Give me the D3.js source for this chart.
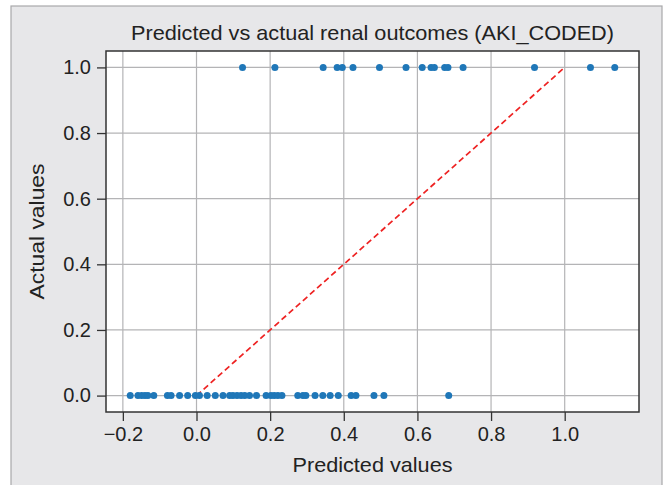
<!DOCTYPE html>
<html>
<head>
<meta charset="utf-8">
<title>Predicted vs actual</title>
<style>
body { margin: 0; background: #fff; }
svg text { font-family: "Liberation Sans", Arial, sans-serif; fill: #222; }
</style>
<script src="https://d3js.org/d3.v7.min.js"></script>
</head>
<body>
<svg id="chart" width="665" height="485"></svg>
<script>
// predicted values where actual = 1
const predPositive = [0.125, 0.213, 0.344, 0.382, 0.396, 0.425, 0.497, 0.569, 0.613,
                      0.637, 0.646, 0.674, 0.683, 0.724, 0.918, 1.070, 1.136];
// predicted values where actual = 0
const predNegative = [-0.180, -0.159, -0.149, -0.140, -0.132, -0.116, -0.079, -0.069,
                      -0.046, -0.024, -0.003, 0.008, 0.029, 0.051, 0.072, 0.090, 0.099,
                      0.110, 0.121, 0.131, 0.144, 0.163, 0.189, 0.202, 0.211, 0.221,
                      0.232, 0.275, 0.289, 0.297, 0.322, 0.343, 0.363, 0.385, 0.420,
                      0.433, 0.482, 0.509, 0.685];
const xTicks = [-0.2, 0.0, 0.2, 0.4, 0.6, 0.8, 1.0];
const yTicks = [0.0, 0.2, 0.4, 0.6, 0.8, 1.0];
const idealLine = [[0, 0], [1, 1]];

const svg = d3.select("#chart");
const L = 106, R = 639, T = 51, B = 412;

// outer grey panel
svg.append("rect")
   .attr("x", 11).attr("y", 6).attr("width", 651).attr("height", 490)
   .style("fill", "#e7e7e9").style("stroke", "#a9a9ab").style("stroke-width", 1.2);

const points = predPositive.map(v => ({x: v, y: 1}))
                 .concat(predNegative.map(v => ({x: v, y: 0})));

const xs = points.map(d => d.x);
const xMin = d3.min(xs), xMax = d3.max(xs);
const pad = (xMax - xMin) * 0.05;

const x = d3.scaleLinear().domain([xMin - pad, xMax + pad]).range([L, R]);
const y = d3.scaleLinear().domain([-0.05, 1.05]).range([B, T]);

svg.append("rect")
   .attr("x", L).attr("y", T).attr("width", R - L).attr("height", B - T)
   .style("fill", "#fff");

// grid
svg.append("g").selectAll("line").data(xTicks).join("line")
   .attr("x1", d => x(d)).attr("x2", d => x(d))
   .attr("y1", T).attr("y2", B)
   .style("stroke", "#b4b4b6").style("stroke-width", 1.2);
svg.append("g").selectAll("line").data(yTicks).join("line")
   .attr("x1", L).attr("x2", R)
   .attr("y1", d => y(d)).attr("y2", d => y(d))
   .style("stroke", "#b4b4b6").style("stroke-width", 1.2);

const fmt = d => d3.format(".1f")(d).replace("-", "\u2013");

const xAxis = d3.axisBottom(x).tickValues(xTicks).tickSize(9).tickPadding(6).tickFormat(fmt);
const yAxis = d3.axisLeft(y).tickValues(yTicks).tickSize(9).tickPadding(6).tickFormat(fmt);

const gx = svg.append("g").attr("transform", `translate(0, ${B})`).call(xAxis);
const gy = svg.append("g").attr("transform", `translate(${L}, 0)`).call(yAxis);
[gx, gy].forEach(g => {
  g.select(".domain").remove();
  g.selectAll(".tick line").style("stroke", "#333").style("stroke-width", 1.3);
  g.selectAll(".tick text").style("font-size", "20px").style("fill", "#222")
   .style("font-family", "'Liberation Sans', Arial, sans-serif");
});

// dashed ideal line
svg.append("path")
   .datum(idealLine)
   .attr("d", d3.line().x(d => x(d[0])).y(d => y(d[1])))
   .style("fill", "none").style("stroke", "#ee2222")
   .style("stroke-width", 1.7).style("stroke-dasharray", "6,3.5");

svg.append("g").selectAll("circle").data(points).join("circle")
   .attr("cx", d => x(d.x)).attr("cy", d => y(d.y)).attr("r", 3.5)
   .style("fill", "#1f77b8");

// frame
svg.append("rect")
   .attr("x", L).attr("y", T).attr("width", R - L).attr("height", B - T)
   .style("fill", "none").style("stroke", "#333").style("stroke-width", 1.5);

svg.append("text").attr("x", (L + R) / 2).attr("y", 40)
   .attr("text-anchor", "middle").style("font-size", "21px")
   .attr("textLength", 483).attr("lengthAdjust", "spacingAndGlyphs")
   .text("Predicted vs actual renal outcomes (AKI_CODED)");

svg.append("text").attr("x", (L + R) / 2).attr("y", 472)
   .attr("text-anchor", "middle").style("font-size", "21px")
   .attr("textLength", 160).attr("lengthAdjust", "spacingAndGlyphs")
   .text("Predicted values");

svg.append("text")
   .attr("transform", `translate(44, ${(T + B) / 2}) rotate(-90)`)
   .attr("text-anchor", "middle").style("font-size", "21px")
   .attr("textLength", 136).attr("lengthAdjust", "spacingAndGlyphs")
   .text("Actual values");
</script>
</body>
</html>
